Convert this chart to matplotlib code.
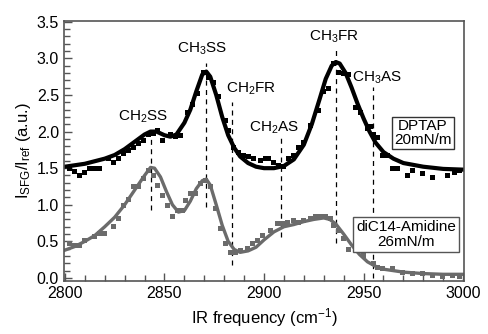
import numpy as np
import matplotlib
matplotlib.use("Agg")
import matplotlib.pyplot as plt
from matplotlib.ticker import MultipleLocator

plt.rcParams['font.family'] = ['Liberation Sans', 'DejaVu Sans']
plt.rcParams['mathtext.fontset'] = 'custom'
plt.rcParams['mathtext.rm'] = 'Liberation Sans'
plt.rcParams['mathtext.it'] = 'Liberation Sans:italic'

# DPTAP 20mN/m data points (black squares)
dptap_x = [2802, 2804.5, 2807, 2809.5, 2812, 2814.5, 2817, 2821.5, 2824, 2826.5,
           2829, 2831.5, 2834, 2836.5, 2839, 2841.5, 2844, 2846.5, 2849, 2853,
           2855.5, 2858, 2861.5, 2864, 2866.5, 2869.5, 2872, 2874.5, 2877, 2880.5,
           2882, 2884.5, 2887, 2889.5, 2892, 2894.5, 2898, 2900.5, 2902, 2904.5,
           2907, 2909.5, 2912, 2914.5, 2917, 2919.5, 2923, 2927, 2929.5, 2932,
           2934.5, 2937, 2939.5, 2942, 2945.5, 2948, 2951.5, 2953, 2954.5, 2957,
           2959.5, 2962, 2964.5, 2967, 2972, 2974.5, 2979.5, 2984.5, 2992, 2995.5,
           2998]
dptap_y = [1.50, 1.46, 1.41, 1.45, 1.50, 1.50, 1.50, 1.64, 1.59, 1.64,
           1.71, 1.75, 1.79, 1.85, 1.89, 1.96, 1.98, 2.02, 1.88, 1.96,
           1.94, 1.95, 2.27, 2.37, 2.53, 2.82, 2.74, 2.68, 2.48, 2.16,
           2.02, 1.79, 1.72, 1.68, 1.66, 1.64, 1.61, 1.64, 1.64, 1.59,
           1.55, 1.53, 1.64, 1.68, 1.79, 1.86, 2.09, 2.30, 2.55, 2.60,
           2.94, 2.82, 2.80, 2.78, 2.34, 2.27, 2.05, 2.07, 1.96, 1.93,
           1.68, 1.68, 1.50, 1.50, 1.41, 1.48, 1.44, 1.38, 1.41, 1.45,
           1.48]

# DPTAP fit curve
dptap_fit_x = [2800, 2810, 2820, 2825, 2830, 2835, 2840, 2843, 2846, 2850,
               2853, 2856, 2860, 2863, 2866, 2869, 2871, 2873, 2876, 2879,
               2882, 2885, 2888, 2892, 2896, 2900, 2905, 2910, 2915, 2920,
               2924, 2928, 2931, 2934, 2936, 2938, 2941, 2944, 2947, 2950,
               2953, 2956, 2960, 2965, 2970, 2980, 2990, 3000]
dptap_fit_y = [1.52, 1.56, 1.63, 1.68, 1.76, 1.86, 1.96, 2.00, 2.00, 1.95,
               1.93, 1.96, 2.12, 2.30, 2.55, 2.78, 2.82, 2.75, 2.50, 2.20,
               1.95, 1.78, 1.66, 1.57, 1.52, 1.50, 1.50, 1.53, 1.62, 1.82,
               2.10, 2.45, 2.72, 2.90, 2.95, 2.93, 2.80, 2.60, 2.38, 2.18,
               2.00, 1.85, 1.72, 1.63, 1.57, 1.52, 1.49, 1.48]

# diC14-Amidine 26mN/m data points (grey squares)
amid_x = [2802, 2804.5, 2807, 2809.5, 2814.5, 2817, 2819.5, 2824, 2826.5, 2829,
          2831.5, 2834, 2836.5, 2839, 2841.5, 2844, 2846.5, 2849, 2851.5, 2854,
          2856.5, 2859, 2860.5, 2863, 2865.5, 2868, 2870.5, 2873, 2875.5, 2878,
          2880.5, 2883, 2885.5, 2888, 2891.5, 2894, 2896.5, 2899, 2903, 2906.5,
          2909, 2911.5, 2914.5, 2917, 2919.5, 2923, 2925.5, 2928, 2930.5, 2933,
          2934.5, 2937, 2939.5, 2942, 2949.5, 2954.5, 2957, 2959.5, 2964.5, 2969.5,
          2974.5, 2979.5, 2984.5, 2989.5, 2994.5, 2998]
amid_y = [0.48, 0.45, 0.45, 0.52, 0.57, 0.61, 0.61, 0.71, 0.82, 1.00,
          1.08, 1.25, 1.25, 1.37, 1.48, 1.41, 1.27, 1.13, 1.00, 0.84,
          0.93, 0.93, 1.07, 1.16, 1.16, 1.30, 1.34, 1.25, 0.96, 0.68,
          0.48, 0.36, 0.36, 0.38, 0.41, 0.48, 0.52, 0.59, 0.66, 0.75,
          0.75, 0.77, 0.79, 0.77, 0.79, 0.82, 0.84, 0.85, 0.85, 0.82,
          0.72, 0.66, 0.55, 0.40, 0.31, 0.21, 0.15, 0.14, 0.14, 0.08,
          0.07, 0.07, 0.04, 0.03, 0.04, 0.03]

# diC14-Amidine fit curve
amid_fit_x = [2800, 2805, 2810, 2815, 2820, 2825, 2830, 2835, 2840, 2843,
              2845, 2848, 2851, 2854, 2857, 2860, 2863, 2866, 2869, 2871,
              2873, 2876, 2879, 2882, 2885, 2888, 2892, 2896, 2900, 2905,
              2910, 2915, 2920, 2925, 2930, 2933, 2936, 2940, 2944, 2948,
              2952, 2956, 2960, 2970, 2980, 2990, 3000]
amid_fit_y = [0.38, 0.43, 0.50, 0.58, 0.70, 0.83, 1.00, 1.20, 1.40, 1.51,
              1.50, 1.38, 1.18, 1.00, 0.90, 0.92, 1.05, 1.22, 1.33, 1.35,
              1.27, 1.00, 0.72, 0.50, 0.39, 0.35, 0.37, 0.42, 0.52, 0.63,
              0.70, 0.73, 0.77, 0.80, 0.82, 0.80, 0.74, 0.60, 0.45, 0.32,
              0.22, 0.16, 0.12, 0.08, 0.06, 0.05, 0.05]

# mode assignments: label, position, dashed line span
modes = ['CH$_2$SS', 'CH$_3$SS', 'CH$_2$FR', 'CH$_2$AS', 'CH$_3$FR', 'CH$_3$AS']
mode_pos = [2843, 2871, 2884, 2908.5, 2936, 2954.5]
line_top = [2.05, 2.94, 2.40, 1.92, 3.16, 2.61]
line_bot = [0.93, 0.97, 0.18, 0.56, 0.48, 0.0]
label_x = [2839, 2869, 2893.5, 2905, 2935, 2957]
label_y = [2.2, 3.13, 2.59, 2.05, 3.30, 2.74]

grey = '#6b6b6b'

fig = plt.figure(figsize=(4.88, 3.34), dpi=100)
ax = fig.add_axes([0.131, 0.159, 0.820, 0.778])

for xp, yt, yb in zip(mode_pos, line_top, line_bot):
    ax.plot([xp, xp], [yb, yt], color='black', lw=0.9, ls=(0, (4, 3.5)))

ax.plot(dptap_fit_x, dptap_fit_y, color='black', lw=3.0, solid_joinstyle='round')
ax.plot(dptap_x, dptap_y, 's', color='black', ms=3.6, mew=0)
ax.plot(amid_fit_x, amid_fit_y, color=grey, lw=2.4, solid_joinstyle='round')
ax.plot(amid_x, amid_y, 's', color=grey, ms=3.6, mew=0)

for lab, lx, ly in zip(modes, label_x, label_y):
    ax.text(lx, ly, lab, fontsize=11, ha='center', va='center')

ax.text(2979.75, 1.98, 'DPTAP\n20mN/m', fontsize=11, ha='center', va='center',
        linespacing=1.0,
        bbox=dict(boxstyle='square,pad=0.15', fc='white', ec='#333333', lw=1.0))
ax.text(2971.25, 0.595, 'diC14-Amidine\n26mN/m', fontsize=11, ha='center', va='center',
        linespacing=1.1,
        bbox=dict(boxstyle='square,pad=0.2', fc='white', ec='#555555', lw=1.0))

ax.set_xlim(2799.5, 3000.5)
ax.set_ylim(-0.04, 3.51)
ax.xaxis.set_major_locator(MultipleLocator(50))
ax.xaxis.set_minor_locator(MultipleLocator(10))
ax.yaxis.set_major_locator(MultipleLocator(0.5))
ax.yaxis.set_minor_locator(MultipleLocator(0.1))
ax.tick_params(which='both', direction='in', colors='#555555', labelcolor='black',
               labelsize=11.5, top=False, right=False)
ax.tick_params(which='major', length=6, width=1.0)
ax.tick_params(which='minor', length=4, width=1.0)
for s in ax.spines.values():
    s.set_color('#555555')
    s.set_linewidth(1.2)

ax.set_xlabel(r'IR frequency (cm$^{\mathrm{-1}}$)', fontsize=12, labelpad=4)
ax.set_ylabel(r'I$_{\mathrm{SFG}}$/I$_{\mathrm{ref}}$ (a.u.)', fontsize=12, labelpad=3)

fig.savefig('out.png', dpi=100)
